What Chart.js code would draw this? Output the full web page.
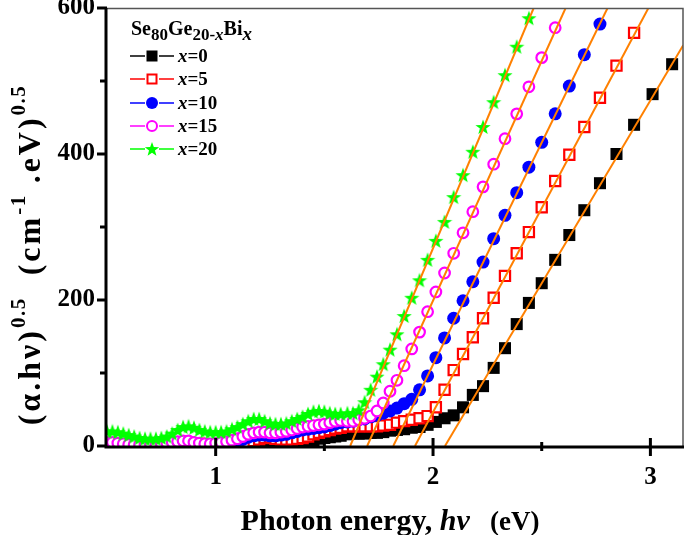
<!DOCTYPE html>
<html><head><meta charset="utf-8">
<script src="https://cdn.jsdelivr.net/npm/chart.js@4/dist/chart.umd.min.js"></script>
<style>html,body{margin:0;padding:0;background:#fff;}#wrap{width:685px;height:535px;}</style>
</head><body><div id="wrap"><canvas id="c" width="685" height="535"></canvas></div>
<script>
// ---- data (photon energy in eV, (alpha.hv)^0.5) ----
const energy = [
 0.500,0.525,0.550,0.575,0.600,0.625,0.650,0.675,0.700,0.725,
 0.750,0.775,0.800,0.825,0.850,0.875,0.900,0.925,0.950,0.975,
 1.000,1.025,1.050,1.075,1.100,1.125,1.150,1.175,1.200,1.225,
 1.250,1.275,1.300,1.325,1.350,1.375,1.400,1.425,1.450,1.475,
 1.500,1.525,1.550,1.575,
 1.606,1.632,1.658,1.685,1.713,1.742,1.771,1.802,1.834,1.867,
 1.902,1.938,1.975,2.013,2.053,2.095,2.138,2.183,2.230,2.279,
 2.331,2.385,2.441,2.500,2.562,2.627,2.696,2.768,2.844,2.925,
 3.010,3.100];
const seriesLabels = ['x=0','x=5','x=10','x=15','x=20'];
const y_x0 = [1,1,0,0,0,0,0,0,0,0, 0,0,0,0,1,1,1,1,0,0, 0,0,0,0,1,1,2,3,4,5, 6,5,3,2,2,3,4,6,8,10, 11,12,13,14,
 16,17,17,17,18,18,19,21,22,23, 25,26,29,33,38,42,53,70,82,107, 134,167,196,223,255,289,323,360,400,440, 482,523];
const y_x5 = [1,1,0,0,0,0,0,0,0,0, 0,0,1,1,1,2,3,3,2,1, 1,1,1,2,3,4,5,7,9,11, 12,10,9,9,9,10,11,13,16,18, 20,22,24,25,
 27,27,27,27,27,27,28,29,32,34, 36,38,41,53,77,104,126,149,175,203, 233,264,293,327,363,399,437,477,521,566, null,null];
const y_x10 = [2,2,1,1,1,1,1,1,1,1, 1,2,3,4,5,5,4,2,2,2, 2,3,4,5,7,9,12,14,15,15, 14,14,15,16,18,20,22,23,24,25, 26,28,30,32,
 33,34,36,37,40,42,45,48,52,58, 64,77,96,121,148,175,199,225,252,284, 316,347,382,416,455,493,536,578,null,null, null,null];
const y_x15 = [5,5,4,3,2,2,2,2,2,2, 3,4,5,6,7,7,5,4,3,3, 4,5,6,8,10,13,16,18,19,19, 18,18,19,20,22,24,26,27,28,29, 30,32,34,35,
 34,34,36,38,41,48,59,75,90,110, 133,156,184,211,237,264,292,321,355,386, 421,455,492,532,573,null,null,null,null,null, null,null];
const y_x20 = [20,20,19,17,15,13,11,10,10,10, 11,13,17,22,26,27,25,22,20,19, 19,19,20,23,26,30,34,37,37,34, 31,30,30,31,34,37,40,44,47,48, 47,45,44,44,
 45,45,49,60,77,95,112,132,153,178, 203,227,255,281,307,341,371,403,437,471, 508,547,586,null,null,null,null,null,null,null, null,null];
// linear fits (Tauc extrapolation lines)
const fitStartE = [2.055, 1.917, 1.817, 1.697, 1.619];
const fitEndE   = [3.151, 2.991, 2.803, 2.610, 2.463];
const fitEndY   = [549, 600, 600, 600, 600];
// axis ticks
const xMajorTicks = [1, 2, 3];
const xMinorTicks = [1.5, 2.5];
const yMajorTicks = [0, 200, 400, 600];
const yMinorTicks = [100, 300, 500];

const colors = ['#000000','#ff0000','#0000ff','#ff00ff','#00ff00'];
const FONT = 'Liberation Serif';

function starPath(ctx, cx, cy, R, r){
  ctx.beginPath();
  for(let i=0;i<10;i++){
    const a = -Math.PI/2 + i*Math.PI/5;
    const rad = (i%2===0)?R:r;
    const px = cx + rad*Math.cos(a), py = cy + rad*Math.sin(a);
    if(i===0) ctx.moveTo(px,py); else ctx.lineTo(px,py);
  }
  ctx.closePath();
}
const starImg = document.createElement('canvas');
starImg.width = 16; starImg.height = 16;
{ const s = starImg.getContext('2d'); s.fillStyle = '#00ff00'; starPath(s, 8, 8.6, 8, 3.3); s.fill(); }

function pts(arr){ const out=[]; for(let i=0;i<energy.length;i++){ if(arr[i]!==null && arr[i]!==undefined) out.push({x:energy[i], y:arr[i]}); } return out; }

const allY = [y_x0,y_x5,y_x10,y_x15,y_x20];
const styles = [
  {pointStyle:'rect', radius:8.5, bg:'#000000', bw:0, order:5},
  {pointStyle:'rect', radius:7.2, bg:'#ffffff', bw:2.2, order:4},
  {pointStyle:'circle', radius:6.5, bg:'#0000ff', bw:0, order:3},
  {pointStyle:'circle', radius:5.3, bg:'#ffffff', bw:2.2, order:2},
  {pointStyle:starImg, radius:8, bg:'#00ff00', bw:0, order:1}
];
const datasets = [];
for(let k=0;k<5;k++){
  const st = styles[k];
  datasets.push({label:seriesLabels[k], data:pts(allY[k]), showLine:false,
    pointStyle:st.pointStyle, pointRadius:st.radius, pointBackgroundColor:st.bg,
    pointBorderColor:colors[k], pointBorderWidth:st.bw, borderColor:colors[k], order:st.order});
}
for(let k=0;k<5;k++){
  datasets.push({label:'fit'+k, data:[{x:fitStartE[k],y:0},{x:fitEndE[k],y:fitEndY[k]}],
    showLine:true, borderColor:'#ff8000', borderWidth:2, pointRadius:0, order:0});
}

function runW(ctx, r){ ctx.font = r.f; const sp = r.sp||0; return ctx.measureText(r.t).width + sp*r.t.length; }
function drawRuns(ctx, runs, x, y){
  let cx = x;
  for(const r of runs){
    ctx.font = r.f; const sp = r.sp||0;
    if(!sp){ ctx.fillText(r.t, cx, y + (r.dy||0)); cx += ctx.measureText(r.t).width; }
    else { for(const ch of r.t){ ctx.fillText(ch, cx, y + (r.dy||0)); cx += ctx.measureText(ch).width + sp; } }
  }
  return cx - x;
}
function runsWidth(ctx, runs){ let w=0; for(const r of runs){ w+=runW(ctx, r); } return w; }

const decor = {
  id:'decor',
  afterDraw(chart){
    const ctx = chart.ctx, ca = chart.chartArea, xs = chart.scales.x, ys = chart.scales.y;
    ctx.save();
    // frame top/right
    ctx.strokeStyle = '#555'; ctx.lineWidth = 1.5;
    ctx.beginPath(); ctx.moveTo(ca.left, ca.top+0.5); ctx.lineTo(ca.right, ca.top+0.5); ctx.lineTo(ca.right, ca.bottom); ctx.stroke();
    // left & bottom axes
    ctx.strokeStyle = '#000'; ctx.lineWidth = 3;
    ctx.beginPath(); ctx.moveTo(ca.left-1, ca.top); ctx.lineTo(ca.left-1, ca.bottom+1); ctx.lineTo(ca.right+1, ca.bottom+1); ctx.stroke();
    // ticks
    ctx.lineWidth = 3;
    for(const v of xMajorTicks){ const p = xs.getPixelForValue(v); ctx.beginPath(); ctx.moveTo(p, ca.bottom-8); ctx.lineTo(p, ca.bottom+10); ctx.stroke(); }
    for(const v of xMinorTicks){ const p = xs.getPixelForValue(v); ctx.beginPath(); ctx.moveTo(p, ca.bottom-4); ctx.lineTo(p, ca.bottom+5); ctx.stroke(); }
    for(const v of yMajorTicks){ const p = ys.getPixelForValue(v); ctx.beginPath(); ctx.moveTo(ca.left-10, p); ctx.lineTo(ca.left, p); ctx.stroke(); }
    for(const v of yMinorTicks){ const p = ys.getPixelForValue(v); ctx.beginPath(); ctx.moveTo(ca.left-7, p); ctx.lineTo(ca.left, p); ctx.stroke(); }
    ctx.fillStyle = '#000'; ctx.textBaseline = 'alphabetic'; ctx.textAlign = 'left';
    // x title
    const xr = [
      {t:'Photon energy, ', f:'bold 30px '+FONT},
      {t:'h\u03bd', f:'italic bold 30px '+FONT},
      {t:'   (eV)', f:'bold 27px '+FONT}];
    const xw = runsWidth(ctx, xr);
    drawRuns(ctx, xr, 390 - xw/2, 530);
    // y title
    const yr = [
      {t:'(\u03b1.h\u03bd)', f:'bold 32px '+FONT, sp:3},
      {t:'0.5', f:'bold 21px '+FONT, dy:-15, sp:1.5},
      {t:'  (cm', f:'bold 32px '+FONT, sp:3},
      {t:'-1', f:'bold 21px '+FONT, dy:-15, sp:1.5},
      {t:' .eV)', f:'bold 32px '+FONT, sp:3},
      {t:'0.5', f:'bold 21px '+FONT, dy:-15, sp:1.5}];
    ctx.save(); ctx.translate(40, 255); ctx.rotate(-Math.PI/2);
    const yw = runsWidth(ctx, yr); drawRuns(ctx, yr, -yw/2, 0); ctx.restore();
    // legend title
    const tr = [
      {t:'Se', f:'bold 20px '+FONT},
      {t:'80', f:'bold 17px '+FONT, dy:5},
      {t:'Ge', f:'bold 20px '+FONT},
      {t:'20-', f:'bold 17px '+FONT, dy:5},
      {t:'x', f:'italic bold 17px '+FONT, dy:5},
      {t:'Bi', f:'bold 20px '+FONT},
      {t:'x', f:'italic bold 19px '+FONT, dy:5}];
    drawRuns(ctx, tr, 131, 35);
    const rowsY = [56, 79, 103, 126, 149];
    const vals = ['0','5','10','15','20'];
    for(let k=0;k<5;k++){
      const y = rowsY[k];
      ctx.strokeStyle = colors[k]; ctx.lineWidth = 1.3;
      ctx.beginPath(); ctx.moveTo(130, y); ctx.lineTo(174, y); ctx.stroke();
      ctx.fillStyle = '#fff'; ctx.fillRect(145, y-7, 14, 14);
      if(k===0){ ctx.fillStyle='#000'; ctx.fillRect(146.5, y-5.5, 11, 11); }
      if(k===1){ ctx.strokeStyle='#f00'; ctx.lineWidth=2; ctx.strokeRect(147.5, y-4.5, 9, 9); }
      if(k===2){ ctx.fillStyle='#00f'; ctx.beginPath(); ctx.arc(152, y, 6, 0, Math.PI*2); ctx.fill(); }
      if(k===3){ ctx.strokeStyle='#f0f'; ctx.lineWidth=2; ctx.beginPath(); ctx.arc(152, y, 5, 0, Math.PI*2); ctx.stroke(); }
      if(k===4){ ctx.fillStyle='#0f0'; starPath(ctx, 152, y+0.6, 7.5, 3.1); ctx.fill(); }
      ctx.fillStyle = '#000';
      drawRuns(ctx, [{t:'x', f:'italic bold 19px '+FONT},{t:'='+vals[k], f:'bold 19px '+FONT}], 178, y+6);
    }
    ctx.restore();
  }
};

new Chart(document.getElementById('c'), {
  type:'scatter',
  data:{datasets},
  options:{
    responsive:false, animation:false, devicePixelRatio:1,
    layout:{autoPadding:false, padding:{top:8, right:2, left:0, bottom:0}},
    plugins:{legend:{display:false}, tooltip:{enabled:false}},
    scales:{
      x:{type:'linear', min:0.5, max:3.15,
        grid:{display:false, drawTicks:false}, border:{display:false},
        afterBuildTicks(s){ s.ticks = xMajorTicks.map(v=>({value:v})); },
        afterFit(s){ s.height = 89; s.paddingLeft = 0; s.paddingRight = 0; },
        ticks:{color:'#000', padding:17, font:{family:FONT, size:25, weight:'bold'}, callback:v=>String(v)}},
      y:{type:'linear', min:0, max:600,
        grid:{display:false, drawTicks:false}, border:{display:false},
        afterBuildTicks(s){ s.ticks = yMajorTicks.map(v=>({value:v})); },
        afterFit(s){ s.width = 107; s.paddingTop = 0; s.paddingBottom = 0; },
        ticks:{color:'#000', padding:12, font:{family:FONT, size:25, weight:'bold'}, callback:v=>String(v)}}
    }
  },
  plugins:[decor]
});
</script></body></html>
